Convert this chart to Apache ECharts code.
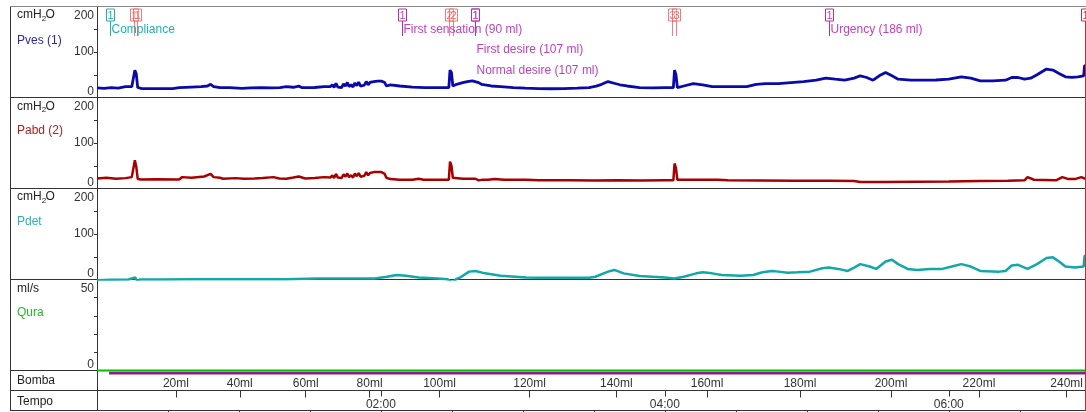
<!DOCTYPE html>
<html><head><meta charset="utf-8">
<script src="https://cdn.jsdelivr.net/npm/echarts@6/dist/echarts.min.js"></script>
<style>html,body{margin:0;padding:0;background:#fff}#c{width:1086px;height:412px}</style>
</head><body><div id="c"></div><script>
// ---- data (time in seconds) ----
const tMax = 418;
const pvesData = [[0,21],[3,20],[6,21.5],[9,20.5],[12,23.8],[14.7,23.8],[15.5,26],[16,60],[16.6,52],[17.2,22],[18,18.5],[19,19.5],[25,19.3],[32,19.4],[34.7,21.6],[40,23],[44,24],[46.7,25.3],[48,29],[49.3,23.8],[52,21.6],[56,21.8],[61.3,20.1],[65,21],[69.3,21.6],[74,21],[77.3,21.8],[80,23.8],[83,22.5],[85.3,25],[86.5,22],[88,21.6],[92,22],[96,23.8],[98.6,24],[99.5,28],[100.2,22],[101,31],[101.8,23],[102.5,26],[103.4,22],[104.2,30],[105,25],[105.8,33],[106.5,24],[107.4,28],[108.2,23],[109,32],[109.8,26],[110.6,34],[111.4,25],[112.2,29],[113,27],[113.8,35],[114.6,28],[115.4,33],[116.2,37],[117,35],[117.8,38],[118.6,36],[119.4,39],[120.2,36],[121,38],[121.6,33],[122.3,25.3],[124,27.6],[128,25.3],[133.3,23],[138.6,21.6],[144,21.6],[148.7,21.6],[149.2,60],[149.8,55],[150.4,25.3],[152,29],[154.6,32.8],[156.5,35],[158.6,36.5],[161.3,32.8],[162.5,29],[164,27.6],[166.6,25.3],[170.6,23.8],[176,21.6],[181,20.5],[186.6,19.4],[192,19.2],[197.3,19.4],[203,20.5],[208,21.6],[211,25],[213.3,29],[216,35],[218.6,31.3],[221,28],[224,25.3],[229.3,21.6],[235,21.3],[240,21.6],[243.6,21.6],[244.1,60],[244.7,50],[245.3,21.6],[248,25.3],[252,30.5],[256,27.6],[260,23.8],[266.6,23.8],[274.6,24],[278.6,29],[282.6,30.5],[288,30.5],[293.3,32.8],[298.6,35],[304,38],[308,42.5],[312,40.2],[316,38],[320,42.5],[322.6,47.7],[325.3,44],[328,38],[330.6,47.7],[333.3,55],[336,47.7],[338.6,40.2],[344,38],[349.3,38],[354.6,38.5],[360,40.2],[365.3,45.4],[369.3,42.5],[373.3,36.5],[378.6,36.5],[384,38],[386.6,44],[389.3,44],[392,40.2],[394.6,42.5],[397.3,49.9],[401.3,62.6],[404,60.3],[406.6,52.9],[409.3,45.4],[412,44],[414.6,45.4],[417,47.7],[417.4,70],[418,70]];
const pabdData = [[0,22],[4,23.6],[8,21.4],[12,22.8],[14.7,25],[15.5,27],[16,62],[16.6,48],[17.2,21],[18.7,20],[25,20.2],[34.7,20],[36,25],[40,23.6],[45.3,26.4],[48,32],[49.3,25],[52,23.6],[53.3,21.4],[58.6,22.8],[62,21.5],[66.6,22.1],[70,23],[74.6,25],[77,22],[80,21.4],[83,24],[85.3,26.4],[88,22.1],[92,23],[96,25],[98.6,24],[99.5,29],[100.2,23],[101,32],[101.8,24],[102.5,27],[103.4,23],[104.2,31],[105,26],[105.8,33],[106.5,25],[107.4,29],[108.2,24],[109,33],[109.8,27],[110.6,34],[111.4,26],[112.2,30],[113,28],[113.8,36],[114.6,29],[115.4,34],[116.2,38],[117,36],[117.8,39.3],[118.6,36],[119.4,38.5],[120.2,36],[121,37.8],[121.6,32],[122.3,23.6],[124,20.7],[128,19.3],[133.3,19.3],[136,21.4],[138,19.3],[141.3,19.3],[148.7,19.3],[149.2,59],[149.8,50],[150.4,23.6],[154.6,21.4],[160,21.4],[161.3,17.9],[163,19.5],[165.3,19.3],[168,20.7],[172,19],[181.3,19.3],[186.6,17.9],[200,18],[210,17.5],[220,18],[230,17.8],[240,18],[243.6,18],[244.1,55],[244.7,45],[245.3,19],[250,19],[253.3,19.3],[262.6,19.3],[266.6,17.9],[280,17.5],[295,17.2],[310,17],[320,16.4],[322.6,14.3],[333.3,14.3],[346.6,15],[360,15.5],[373.3,16.4],[385,17],[392,17.9],[393.3,25],[396,19.3],[405.3,17.9],[408,25],[410.6,20.7],[413.3,20.7],[416,25],[418,20.7]];
const pdetData = [[0,-1.5],[6,-0.5],[13.3,0],[16.2,4.5],[16.8,1],[17.2,-6],[18,0],[26.6,0],[40,0.5],[60,0.8],[80,0.8],[93.3,2.3],[106.6,2.3],[117.3,2.3],[122.6,6],[126.6,9.8],[130.6,8.3],[136,4.5],[144,2.3],[148,0.8],[150.4,-6],[151.5,0],[153.3,3.8],[157.3,17.3],[160,18.8],[164,13.5],[170.6,8.3],[181.3,4.5],[186.6,3.8],[197,3.8],[208,3.8],[210.6,6],[216,17.3],[218.6,21],[222.6,13.5],[229.3,7.5],[240,4.5],[244,2.3],[248,6],[253.3,13.5],[256,15.8],[260,13.5],[264,9.8],[272,8.3],[277.3,9.8],[281.3,15.8],[285.3,18.8],[288,17.3],[292,15],[296,15.8],[301.3,17.3],[306.6,24.8],[309.3,26.3],[313.3,23.3],[317.3,18.8],[320,26.3],[322.6,33.8],[326.6,28.5],[329.3,23.3],[333.3,39.7],[336,43.5],[338.6,33.8],[342.6,23.3],[346.6,21],[352,23.3],[357.3,23.3],[361.3,28.5],[365.3,33.8],[369.3,28.5],[373.3,18.8],[381.3,17.3],[384,18.8],[386.6,30.8],[389.3,32.3],[393.3,23.3],[397.3,33.8],[401.3,47.2],[404,48.7],[406.6,39.7],[409.3,28.5],[413.3,26.3],[417,28.5],[417.4,52],[418,52]];
const quraData = [[0,0],[418,0]];
const bombaData = [[5.1,1],[418,1]];
const volMarks = [20,40,60,80,100,120,140,160,180,200,220,240];
const volTimes = [33.4,60.4,88.3,115.3,144.9,183,219.7,258.1,297.4,335.9,373.1,410.2];
const tempoMinorTicks = [30,60,90,120,150,180,210,240,270,300,330,360,390];
const tempoMajorTicks = [120,240,360];
const pressureTicks = ['0','100','200'];
const quraTicks = ['0','50'];
const eventTimes  = [5.3, 15.6, 16.9, 128.9, 148.7, 150.4, 159.7, 159.9, 242.9, 244.6, 309.3, 417.4];
const eventNums   = ['1','1','1','1','2','2','1','1','3','3','1','1'];
const eventKinds  = ['comp','red','red','purple','red','red','purple','purple','red','red','purple','end'];
const eventLabels = ['Compliance','','','First sensation (90 ml)','','','First desire (107 ml)','Normal desire (107 ml)','','','Urgency (186 ml)',''];
// ---- layout / style ----
const eventLabelRow = [0,0,0,0,0,0,1,2,0,0,0,0];
const rowY = [29.5, 50, 70.5];
const kindStyle = {
  comp:   {box:'#22b0b0', text:'#22b0b0', line:'#22b0b0'},
  red:    {box:'rgba(235,70,70,0.7)', text:'rgba(235,70,70,0.8)', line:'rgba(235,70,70,0.7)'},
  purple: {box:'#b030b0', text:'#c040c0', line:'#b030b0'},
  end:    {box:'#c03030', text:'#c03030', line:'#c03030'}
};
const FONT = '"Liberation Sans", Arial, sans-serif';
const L = 97, W = 989;
const panelTops = [6.5, 97.5, 188.5, 279.5, 370.5, 390.5];
const panelH = [91, 91, 91, 91, 20, 20];
const bottomY = 410.5;

const grids = panelTops.map((t,i)=>({left:L, width:W, top:t, height:panelH[i], containLabel:false}));

function pAxis(gi, max, interval, shown){
  return {type:'value', gridIndex:gi, min:0, max:max, interval:interval, position:'left',
    axisLine:{show:true, lineStyle:{color:'#333', width:1}},
    axisTick:{show:true, length:3, lineStyle:{color:'#333'}},
    splitLine:{show:false},
    axisLabel:{show:true, fontSize:12, fontFamily:FONT, color:'#333', margin:3,
      verticalAlignMaxLabel:'top', verticalAlignMinLabel:'bottom',
      rich:{t:{fontSize:12, fontFamily:FONT, color:'#333', padding:[3,0,0,0]}},
      formatter: v => shown.indexOf(String(v))<0 ? '' : (v===max ? '{t|'+v+'}' : String(v))}};
}
const hiddenX = gi => ({type:'value', gridIndex:gi, min:0, max:tMax, show:false});
const pad = n => (n<10?'0':'')+n;

const option = {
  animation:false,
  backgroundColor:'#fff',
  grid: grids,
  xAxis: [hiddenX(0), hiddenX(1), hiddenX(2), hiddenX(3),
    {type:'value', gridIndex:4, min:0, max:tMax, position:'top',
      axisLine:{show:false}, splitLine:{show:false},
      axisTick:{show:true, inside:true, length:7, customValues:volTimes, lineStyle:{color:'#333'}},
      axisLabel:{show:true, inside:true, margin:7.5, customValues:volTimes, fontSize:12, fontFamily:FONT, color:'#333',
        verticalAlign:'top',
        formatter: v => { const i = volTimes.findIndex(x=>Math.abs(x-v)<0.01); return i>=0 ? volMarks[i]+'ml' : ''; }}},
    {type:'value', gridIndex:5, min:0, max:tMax, position:'top',
      axisLine:{show:false}, splitLine:{show:false},
      axisTick:{show:true, inside:true, length:4, customValues:tempoMinorTicks, lineStyle:{color:'#333'}},
      axisLabel:{show:false}},
    {type:'value', gridIndex:5, min:0, max:tMax, position:'top',
      axisLine:{show:false}, splitLine:{show:false},
      axisTick:{show:true, inside:true, length:6, customValues:tempoMajorTicks, lineStyle:{color:'#333'}},
      axisLabel:{show:true, inside:true, margin:8, customValues:tempoMajorTicks, fontSize:12, fontFamily:FONT, color:'#333',
        verticalAlign:'top',
        formatter: v => pad(Math.floor(v/60))+':'+pad(Math.round(v%60))}}
  ],
  yAxis: [pAxis(0,200,50,pressureTicks), pAxis(1,200,50,pressureTicks), pAxis(2,200,50,pressureTicks), pAxis(3,50,10,quraTicks),
    {type:'value', gridIndex:4, min:0, max:1.15, show:false},
    {type:'value', gridIndex:5, min:0, max:1, show:false}],
  graphic: [],
  series: [
    {name:'Pves', type:'line', xAxisIndex:0, yAxisIndex:0, data:pvesData, showSymbol:false, lineStyle:{color:'#0a0aa8', width:2.8}, z:3},
    {name:'Pabd', type:'line', xAxisIndex:1, yAxisIndex:1, data:pabdData, showSymbol:false, lineStyle:{color:'#a80000', width:2.5}, z:3},
    {name:'Pdet', type:'line', xAxisIndex:2, yAxisIndex:2, data:pdetData, showSymbol:false, lineStyle:{color:'#12a8a8', width:2.5}, z:3},
    {name:'Qura', type:'line', xAxisIndex:3, yAxisIndex:3, data:quraData, showSymbol:false, clip:false, lineStyle:{color:'#00c000', width:2}, z:4},
    {name:'Bomba', type:'line', xAxisIndex:4, yAxisIndex:4, data:bombaData, showSymbol:false, clip:false, lineStyle:{color:'#8e1b8e', width:2.8}, z:4},
    {name:'Events', type:'custom', xAxisIndex:0, yAxisIndex:0, clip:false, z:5,
      data: eventTimes.map((t,i)=>[t,i]),
      renderItem: function(params, api){
        const i = api.value(1);
        const x = Math.round(api.coord([api.value(0),0])[0]) + 0.5;
        const top = params.coordSys.y;
        const st = kindStyle[eventKinds[i]];
        const by = top + 2.5, bh = 12, bw = 8;
        const ch = [
          {type:'rect', shape:{x:x-4, y:by, width:bw, height:bh}, style:{fill:'rgba(255,255,255,0.3)', stroke:st.box, lineWidth:1}},
          {type:'text', style:{text:eventNums[i], x:x, y:by+bh/2+0.5, align:'center', verticalAlign:'middle', font:'11px '+FONT, fill:st.text}},
          {type:'line', shape:{x1:x, y1:by+bh, x2:x, y2: eventKinds[i]==='end' ? bottomY : top+29.5}, style:{stroke:st.line, lineWidth:1}}
        ];
        if (eventLabels[i]) ch.push({type:'text', style:{text:eventLabels[i], x:x+1, y:rowY[eventLabelRow[i]], verticalAlign:'middle', font:'12px '+FONT, fill:st.text}});
        return {type:'group', children:ch};
      }}
  ]
};

// frame lines and left-column labels
const G = option.graphic;
const hl = (y,c)=>G.push({type:'line', shape:{x1:10, y1:y, x2:1086, y2:y}, style:{stroke:c||'#333', lineWidth:1}, z:1});
hl(6.5,'#888'); [97.5,188.5,279.5,370.5,390.5,410.5].forEach(y=>hl(y));
G.push({type:'line', shape:{x1:10.5, y1:6.5, x2:10.5, y2:410.5}, style:{stroke:'#333', lineWidth:1}});
G.push({type:'line', shape:{x1:97.5, y1:370.5, x2:97.5, y2:410.5}, style:{stroke:'#333', lineWidth:1}});
const txt = (s,x,y,c,fs)=>G.push({type:'text', style:{text:s, x:x, y:y, verticalAlign:'middle', font:(fs||12)+'px '+FONT, fill:c||'#222'}});
function unit(y){ txt('cmH',17,y); txt('2',41.7,y+3.5,'#222',8); txt('O',45.5,y); }
unit(15); unit(106.5); unit(197);
txt('ml/s',17,288.5);
txt('Pves (1)',17,41,'#2a2aa8');
txt('Pabd (2)',17,130.5,'#b02020');
txt('Pdet',17,222,'#2ab4b4');
txt('Qura',17,312.5,'#22bb22');
txt('Bomba',17,381);
txt('Tempo',17,401.5);

echarts.init(document.getElementById('c'), null, {renderer:'canvas'}).setOption(option);
</script></body></html>
